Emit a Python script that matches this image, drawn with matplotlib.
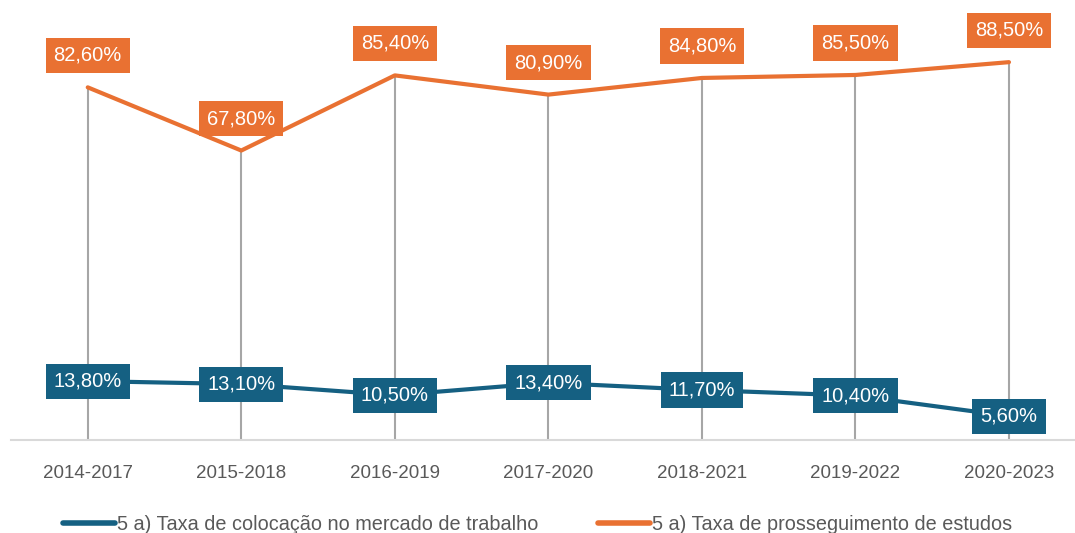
import matplotlib.pyplot as plt
from matplotlib import font_manager

periods = ['2014-2017', '2015-2018', '2016-2019', '2017-2020', '2018-2021', '2019-2022', '2020-2023']
colocacao = [13.8, 13.1, 10.5, 13.4, 11.7, 10.4, 5.6]
prosseguimento = [82.6, 67.8, 85.4, 80.9, 84.8, 85.5, 88.5]
series_names = ['5 a) Taxa de colocação no mercado de trabalho',
                '5 a) Taxa de prosseguimento de estudos']

BLUE = '#156082'
ORANGE = '#E97132'

names = {f.name for f in font_manager.fontManager.ttflist}
font = 'Liberation Sans Narrow' if 'Liberation Sans Narrow' in names else 'Liberation Sans'
plt.rcParams['font.family'] = [font, 'DejaVu Sans']


def fmt(v):
    return f'{v:.2f}%'.replace('.', ',')


fig = plt.figure(figsize=(10.75, 5.33), dpi=100)
ax = fig.add_axes([0.0102, 0.1745, 0.9898, 0.801])

x = list(range(len(periods)))

# linhas verticais de referencia
ax.vlines(x, 0, prosseguimento, color='#a6a6a6', lw=1.5, zorder=1)

ax.plot(x, colocacao, color=BLUE, lw=3, solid_capstyle='round', zorder=2,
        label=series_names[0])
ax.plot(x, prosseguimento, color=ORANGE, lw=3, solid_capstyle='round', zorder=2,
        label=series_names[1])

box = dict(boxstyle='square,pad=0.4', lw=0)
for xi, v in zip(x, colocacao):
    ax.annotate(fmt(v), (xi, v), ha='center', va='center', color='white',
                fontsize=14.5, bbox=dict(box, fc=BLUE), zorder=3)
for xi, v in zip(x, prosseguimento):
    ax.annotate(fmt(v), (xi, v), xytext=(0, 23), textcoords='offset points',
                ha='center', va='center', color='white', fontsize=14.5,
                bbox=dict(box, fc=ORANGE), zorder=3)

ax.set_xlim(-0.5, 6.43)
ax.set_ylim(0, 100)
ax.set_xticks(x)
ax.set_xticklabels(periods, fontsize=13.5, color='#595959')
ax.tick_params(axis='x', length=0, pad=18)
ax.set_yticks([])
for s in ['top', 'right', 'left']:
    ax.spines[s].set_visible(False)
ax.spines['bottom'].set_color('#d9d9d9')
ax.spines['bottom'].set_linewidth(1.5)

leg = fig.legend(loc='lower center', bbox_to_anchor=(0.5, -0.035), ncol=2, frameon=False,
                 fontsize=14.3, handlelength=2.6, handletextpad=0.1, columnspacing=3.0)
for t in leg.get_texts():
    t.set_color('#595959')
for h in leg.get_lines():
    h.set_linewidth(4)

fig.savefig('out.png', dpi=100)
